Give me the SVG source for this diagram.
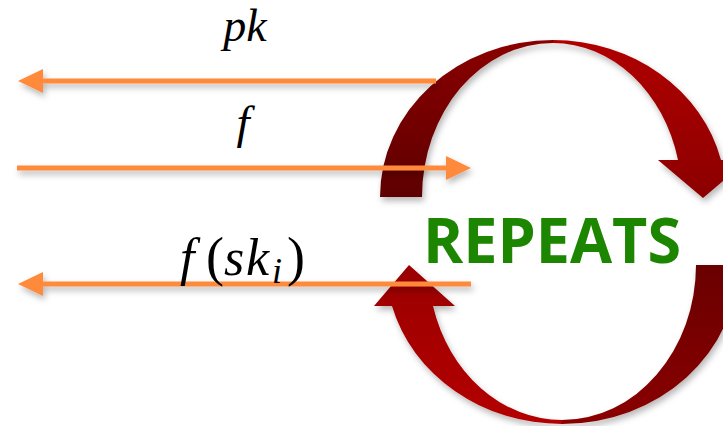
<svg xmlns="http://www.w3.org/2000/svg" width="723" height="426" viewBox="0 0 723 426">
  <style>
    .math { font-family: "Liberation Serif", "DejaVu Serif", serif; font-style: italic; fill: #000; }
    .up { font-family: "Liberation Serif", "DejaVu Serif", serif; font-style: normal; fill: #000; }
    .conn line { stroke: #ff8a3a; stroke-width: 5; }
    .head { fill: #ff8a3a; }
  </style>
  <defs>
    <filter id="sh" x="-10%" y="-30%" width="130%" height="180%">
      <feDropShadow dx="2" dy="4" stdDeviation="3" flood-color="#000" flood-opacity="0.28"/>
    </filter>
    <linearGradient id="tl" x1="0" y1="1" x2="0" y2="0">
      <stop offset="0" stop-color="#5e0000"/>
      <stop offset="1" stop-color="#8a0000"/>
    </linearGradient>
    <linearGradient id="tr" x1="0" y1="0" x2="0" y2="1">
      <stop offset="0" stop-color="#b00000"/>
      <stop offset="1" stop-color="#8c0000"/>
    </linearGradient>
    <linearGradient id="bl" x1="0" y1="0" x2="0" y2="1">
      <stop offset="0" stop-color="#9a0000"/>
      <stop offset="1" stop-color="#b40000"/>
    </linearGradient>
    <linearGradient id="br" x1="0" y1="0" x2="0" y2="1">
      <stop offset="0" stop-color="#6a0000"/>
      <stop offset="1" stop-color="#8a0000"/>
    </linearGradient>
  </defs>

  <g id="cycle-top" filter="url(#sh)">
    <path d="M380,197 A173,157 0 0 1 553,40 L553,43 A131,154 0 0 0 422,197 Z" fill="url(#tl)"/>
    <path d="M553,40 A173,157 0 0 1 721,160 L748,160 L703,198 L658,160 L678,160 A129,154 0 0 0 553,43 Z" fill="url(#tr)"/>
  </g>

  <g id="cycle-bottom" filter="url(#sh)">
    <path d="M392,306 A176,159 0 0 0 562,424 L562,420 A134,155 0 0 1 433,306 L455,306 L409,265 L374,306 Z" fill="url(#bl)"/>
    <path d="M562,424 A176,159 0 0 0 738,265 L696,265 A134,155 0 0 1 562,420 Z" fill="url(#br)"/>
  </g>

  <g id="repeats">
    <text x="423" y="263" font-family="'Open Sans', 'Liberation Sans', sans-serif" font-weight="700" font-size="63" fill="#1c8600" textLength="258" lengthAdjust="spacingAndGlyphs">REPEATS</text>
  </g>

  <g id="connectors" class="conn">
    <g id="arrow-pk" filter="url(#sh)">
      <line x1="40" y1="81" x2="436" y2="81"/>
      <polygon class="head" points="18,81 43,69 43,93"/>
    </g>
    <g id="arrow-f" filter="url(#sh)">
      <line x1="17" y1="168" x2="448" y2="168"/>
      <polygon class="head" points="471,168 446,156 446,180"/>
    </g>
    <g id="arrow-fsk" filter="url(#sh)">
      <line x1="40" y1="284" x2="471" y2="284"/>
      <polygon class="head" points="18,284 43,272 43,296"/>
    </g>
  </g>

  <g id="labels">
    <text class="math" x="245" y="41" font-size="46" text-anchor="middle">pk</text>
    <text class="math" x="243" y="138" font-size="47" text-anchor="middle">f</text>
    <text font-size="52" y="275"><tspan class="math" x="180">f</tspan><tspan class="up" x="206" font-size="54">(</tspan><tspan class="math" x="224">s</tspan><tspan class="math" x="246">k</tspan><tspan class="math" x="272" y="283" font-size="36">i</tspan><tspan class="up" x="287" y="275" font-size="54">)</tspan></text>
  </g>
</svg>
